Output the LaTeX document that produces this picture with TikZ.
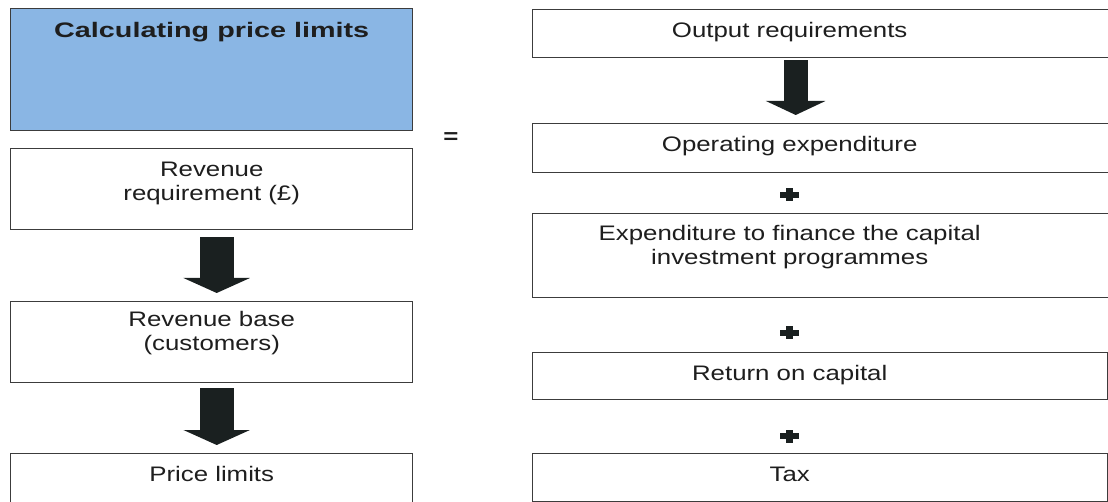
\documentclass[tikz,border=0pt]{standalone}
\usepackage{fontspec}
\setmainfont{Liberation Sans}[FakeStretch=1.23]
\newfontfamily\titlefont{Liberation Sans}[FakeStretch=1.37]
\usetikzlibrary{arrows.meta}
\definecolor{boxblue}{RGB}{138,182,228}
\definecolor{ink}{RGB}{30,30,30}
\definecolor{edge}{RGB}{60,60,60}
\definecolor{arrowink}{RGB}{26,32,32}
\tikzset{
  box/.style={draw=edge, line width=1.4pt, fill=white, inner sep=0pt, anchor=north west,
    text=ink, font=\fontsize{21}{24}\selectfont},
  bigarrowL/.style={draw=arrowink, line width=34pt, -{Triangle[length=15pt,width=66pt]}},
  bigarrowR/.style={draw=arrowink, line width=24pt, -{Triangle[length=14pt,width=59pt]}},
  plusc/.style={fill=arrowink},
  eqsign/.style={text=ink, inner sep=0pt, font=\fontsize{21}{24}\selectfont\bfseries}
}
\begin{document}
\begin{tikzpicture}[x=1pt,y=-1pt]
\fill[white] (0,0) rectangle (1108,502);
\useasboundingbox (0,0) rectangle (1108,502);

% left column
\node[box, fill=boxblue] (title) at (10,8)
  {\parbox[c][122pt][t]{402pt}{\centering\rule{0pt}{28.5pt}\titlefont\bfseries Calculating price limits}};
\node[box] (rr) at (10,148)
  {\parbox[c][81pt][t]{402pt}{\centering\rule{0pt}{28pt}Revenue\\requirement (£)}};
\node[box] (rb) at (10,301)
  {\parbox[c][81pt][t]{402pt}{\centering\rule{0pt}{25pt}Revenue base\\(customers)}};
\node[box] (pl) at (10,453)
  {\parbox[c][62pt][t]{402pt}{\centering\rule{0pt}{27.5pt}Price limits}};

% equals
\node[eqsign] (eq) at (451,138) {=};

% right column
\node[box] (out) at (532,9)
  {\parbox[c][48pt][t]{582pt}{\centering\rule{0pt}{27.5pt}\hspace*{-68pt}Output requirements}};
\node[box] (op) at (532,123)
  {\parbox[c][49pt][t]{582pt}{\centering\rule{0pt}{27.5pt}\hspace*{-68pt}Operating expenditure}};
\node[box] (exp) at (532,213)
  {\parbox[c][84pt][t]{582pt}{\centering\rule{0pt}{26.5pt}\hspace*{-68pt}Expenditure to finance the capital\\\hspace*{-68pt}investment programmes}};
\node[box] (ret) at (532,352)
  {\parbox[c][47pt][t]{575pt}{\centering\rule{0pt}{27.5pt}\hspace*{-61pt}Return on capital}};
\node[box] (tax) at (532,453)
  {\parbox[c][48pt][t]{575pt}{\centering\rule{0pt}{27.5pt}\hspace*{-61pt}Tax}};

% block arrows
\draw[bigarrowL, shorten <=7pt, shorten >=8pt] ([xshift=5pt]rr.south) -- ([xshift=5pt]rb.north);
\draw[bigarrowL, shorten <=5pt, shorten >=8pt] ([xshift=5pt]rb.south) -- ([xshift=5pt]pl.north);
\draw[bigarrowR, shorten <=2pt, shorten >=8pt] ([xshift=-28pt]out.south) -- ([xshift=-28pt]op.north);

% plus signs
\foreach \n/\yy in {p1/195, p2/333, p3/436} {
  \coordinate (\n) at (789,\yy);
  \fill[plusc, shift={(\n)}] (-9.5,-3) rectangle (9.5,3);
  \fill[plusc, shift={(\n)}] (-3.5,-6.5) rectangle (3.5,6.5);
}
\end{tikzpicture}
\end{document}
